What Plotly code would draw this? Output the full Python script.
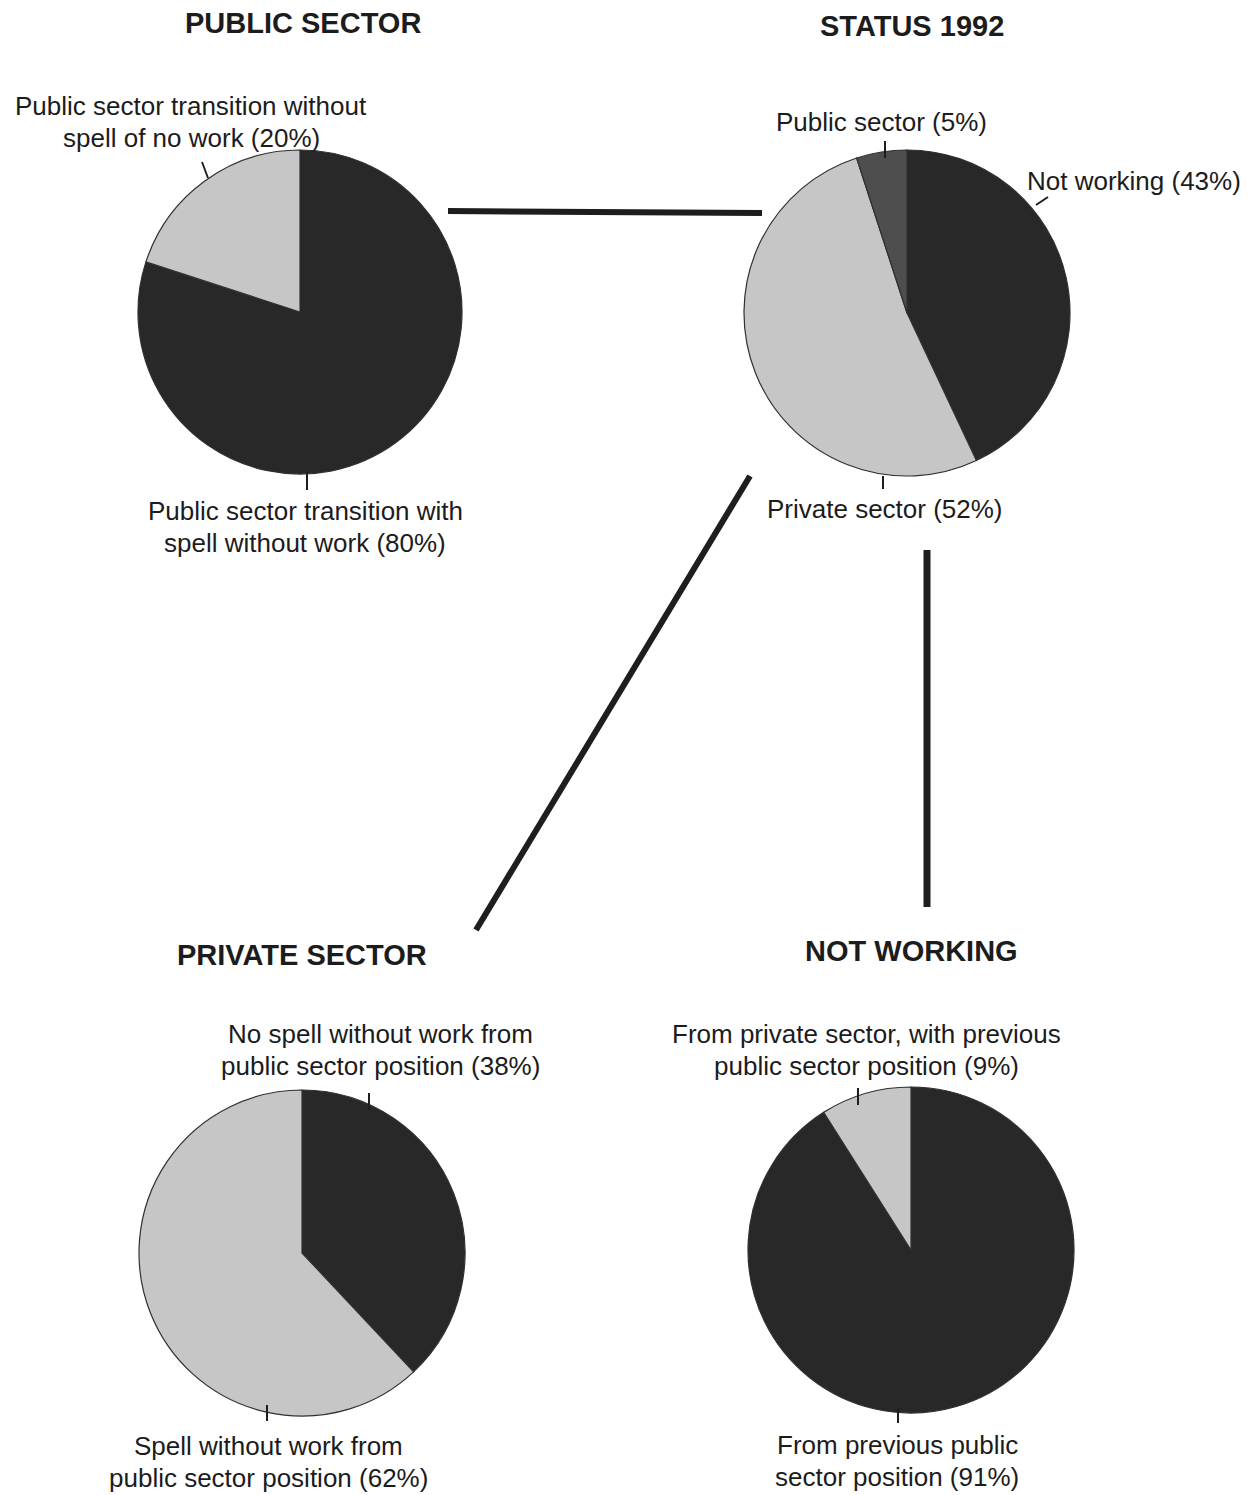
import plotly.graph_objects as go

W, H = 1256, 1495

# Slice data for the four pies (clockwise from 12 o'clock)
public_labels = ["Public sector transition with spell without work",
                 "Public sector transition without spell of no work"]
public_values = [80, 20]

status_labels = ["Not working", "Private sector", "Public sector"]
status_values = [43, 52, 5]

private_labels = ["No spell without work from public sector position",
                  "Spell without work from public sector position"]
private_values = [38, 62]

notworking_labels = ["From previous public sector position",
                     "From private sector, with previous public sector position"]
notworking_values = [91, 9]

DARK = "#282828"
LIGHT = "#c6c6c6"
MID = "#4e4e4e"


def px(x):
    return x / W


def py(y):
    return 1 - y / H


def domain(cx, cy, r):
    return dict(x=[px(cx - r), px(cx + r)], y=[py(cy + r), py(cy - r)])


fig = go.Figure()

pies = [
    (public_labels, public_values, [DARK, LIGHT], (300, 312, 162)),
    (status_labels, status_values, [DARK, LIGHT, MID], (907, 313, 163)),
    (private_labels, private_values, [DARK, LIGHT], (302, 1253, 163)),
    (notworking_labels, notworking_values, [DARK, LIGHT], (911, 1250, 163)),
]

for labels, values, colors, (cx, cy, r) in pies:
    fig.add_trace(go.Pie(
        labels=labels, values=values, sort=False, direction="clockwise",
        rotation=0, textinfo="none", hoverinfo="skip", showlegend=False,
        marker=dict(colors=colors, line=dict(color="#303030", width=1.2)),
        domain=domain(cx, cy, r),
    ))

shapes = []


def seg(x0, y0, x1, y1, width, color="#1e1e1e"):
    shapes.append(dict(type="line", xref="paper", yref="paper",
                       x0=px(x0), y0=py(y0), x1=px(x1), y1=py(y1),
                       line=dict(color=color, width=width)))


# connectors between the summary pie and the breakdown pies
seg(448, 211, 762, 213, 6)
seg(750, 476, 476, 930, 6)
seg(927, 550, 927, 907, 7)

# leader ticks from labels to slices
seg(202, 162, 208, 178, 2)
seg(307, 472, 307, 490, 2)
seg(885, 141, 885, 158, 2)
seg(1036, 205, 1048, 197, 2)
seg(883, 476, 883, 489, 2)
seg(369, 1093, 369, 1110, 2)
seg(267, 1405, 267, 1421, 2)
seg(858, 1088, 858, 1105, 2)
seg(898, 1408, 898, 1423, 2)

annotations = []
FONT = "Liberation Sans, Arial, Helvetica, sans-serif"
LINE_GAP = 32


def txt(x, y, lines, size=26, bold=False):
    # one annotation per text line, stacked around the centre y
    n = len(lines)
    for i, s in enumerate(lines):
        yy = y + (i - (n - 1) / 2) * LINE_GAP
        annotations.append(dict(
            xref="paper", yref="paper", x=px(x), y=py(yy), text=s,
            showarrow=False, xanchor="center", yanchor="middle", align="center",
            font=dict(family=FONT, size=size, color="#1c1c1c",
                      weight="bold" if bold else "normal"),
        ))


# panel titles
txt(303, 23, ["PUBLIC SECTOR"], 29, True)
txt(912, 26, ["STATUS 1992"], 29, True)
txt(302, 955, ["PRIVATE SECTOR"], 29, True)
txt(912, 951, ["NOT WORKING"], 29, True)

# slice labels
txt(191, 122, ["Public sector transition without", "spell of no work (20%)"])
txt(305, 527, ["Public sector transition with", "spell without work (80%)"])
txt(881, 122, ["Public sector (5%)"])
txt(1134, 181, ["Not working (43%)"])
txt(885, 509, ["Private sector (52%)"])
txt(380, 1050, ["No spell without work from", "public sector position (38%)"])
txt(268, 1462, ["Spell without work from", "public sector position (62%)"])
txt(866, 1050, ["From private sector, with previous", "public sector position (9%)"])
txt(897, 1461, ["From previous public", "sector position (91%)"])

fig.update_layout(
    width=W, height=H, margin=dict(l=0, r=0, t=0, b=0),
    paper_bgcolor="white", plot_bgcolor="white",
    shapes=shapes, annotations=annotations,
)

fig.write_html("out.html")
